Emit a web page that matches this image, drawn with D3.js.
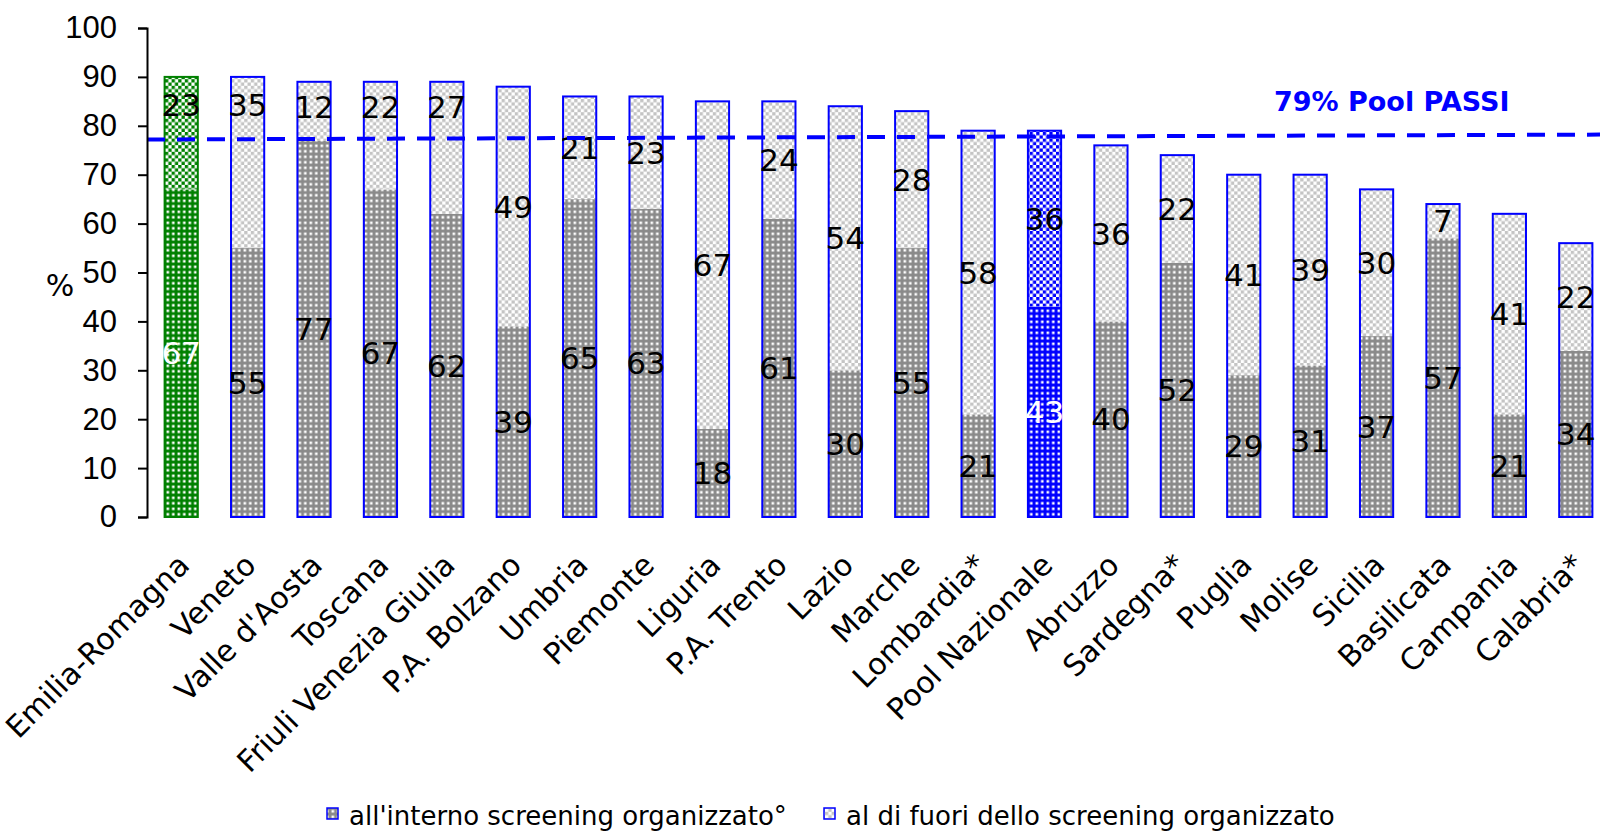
<!DOCTYPE html>
<html>
<head>
<meta charset="utf-8">
<script src="https://cdn.jsdelivr.net/npm/d3@7"></script>
<style>
  body { margin: 0; background: #fff; }
  svg { display: block; font-family: "DejaVu Sans", Verdana, sans-serif; }
  .axis path, .axis line { stroke: #000; stroke-width: 2; }
  .axis text { font-size: 31px; fill: #000; }
</style>
</head>
<body>
<svg id="chart" width="1600" height="833"></svg>
<script>
// regions, sorted by total
const regions = [
  "Emilia-Romagna", "Veneto", "Valle d'Aosta", "Toscana", "Friuli Venezia Giulia",
  "P.A. Bolzano", "Umbria", "Piemonte", "Liguria", "P.A. Trento", "Lazio",
  "Marche", "Lombardia*", "Pool Nazionale", "Abruzzo", "Sardegna*", "Puglia",
  "Molise", "Sicilia", "Basilicata", "Campania", "Calabria*"
];
// % inside organised screening
const inside = [67, 55, 77, 67, 62, 39, 65, 63, 18, 61, 30, 55, 21, 43, 40, 52, 29, 31, 37, 57, 21, 34];
// % outside organised screening
const outside = [23, 35, 12, 22, 27, 49, 21, 23, 67, 24, 54, 28, 58, 36, 36, 22, 41, 39, 30, 7, 41, 22];
const yTicks = [0, 10, 20, 30, 40, 50, 60, 70, 80, 90, 100];
// reference line (drawn slightly tilted, as in the source)
const poolLine = [77.2, 78.2];
const poolLabel = "79% Pool PASSI";
const legendLabels = ["all'interno screening organizzato°", "al di fuori dello screening organizzato"];

const special = { "Emilia-Romagna": "green", "Pool Nazionale": "blue" };

const svg = d3.select("#chart");
const x = d3.scaleBand().domain(regions).range([148, 1609]).paddingInner(0.5).paddingOuter(0.25);
const y = d3.scaleLinear().domain([0, 100]).range([517, 28]);

// Patterns
// ----------------------------------------
const defs = svg.append("defs");
function dotPattern(id, bg) {
  const p = defs.append("pattern").attr("id", id)
      .attr("patternUnits", "userSpaceOnUse").attr("width", 5.5).attr("height", 5.5);
  p.append("rect").attr("width", 5.5).attr("height", 5.5).attr("fill", bg);
  p.append("rect").attr("x", 1.5).attr("y", 1.5).attr("width", 2.6).attr("height", 2.6).attr("fill", "#fff");
}
function checkPattern(id, fg) {
  const p = defs.append("pattern").attr("id", id)
      .attr("patternUnits", "userSpaceOnUse").attr("width", 6.6).attr("height", 6.6);
  p.append("rect").attr("width", 6.6).attr("height", 6.6).attr("fill", "#fff");
  p.append("rect").attr("width", 3.3).attr("height", 3.3).attr("fill", fg);
  p.append("rect").attr("x", 3.3).attr("y", 3.3).attr("width", 3.3).attr("height", 3.3).attr("fill", fg);
}
dotPattern("in-gray", "#8a8a8a");
dotPattern("in-green", "#008000");
dotPattern("in-blue", "#0000ff");
checkPattern("out-gray", "#c4c4c4");
checkPattern("out-green", "#008000");
checkPattern("out-blue", "#0000ff");

const colorOf = r => special[r] || "gray";
const strokeOf = r => special[r] === "green" ? "#008000" : "#0000ff";

// Bars
// ----------------------------------------
const bars = svg.append("g").selectAll("g")
  .data(regions.map((r, i) => ({ r, a: inside[i], b: outside[i] })))
  .join("g");

bars.append("rect")
  .attr("x", d => x(d.r)).attr("width", x.bandwidth())
  .attr("y", d => y(d.a)).attr("height", d => y(0) - y(d.a))
  .attr("fill", d => `url(#in-${colorOf(d.r)})`);
bars.append("rect")
  .attr("x", d => x(d.r)).attr("width", x.bandwidth())
  .attr("y", d => y(d.a + d.b)).attr("height", d => y(d.a) - y(d.a + d.b))
  .attr("fill", d => `url(#out-${colorOf(d.r)})`);
bars.append("rect")
  .attr("x", d => x(d.r)).attr("width", x.bandwidth())
  .attr("y", d => y(d.a + d.b)).attr("height", d => y(0) - y(d.a + d.b))
  .attr("fill", "none").attr("stroke", d => strokeOf(d.r)).attr("stroke-width", 2);

// dashed pool line
const lineX0 = 147, lineX1 = 1600;
svg.append("line")
  .attr("x1", lineX0).attr("x2", lineX1)
  .attr("y1", y(poolLine[0])).attr("y2", y(poolLine[1]))
  .attr("stroke", "#0000ff").attr("stroke-width", 4).attr("stroke-dasharray", "18,12");

svg.append("text")
  .attr("x", 1274).attr("y", 111)
  .attr("font-size", 27).attr("font-weight", "bold").attr("fill", "#0000ff")
  .text(poolLabel);

// value labels
const lineAt = (poolLine[0] + poolLine[1]) / 2;
function topLabelPos(d) {
  const total = d.a + d.b, mid = d.a + d.b / 2;
  // move above the dashed line when it would sit on it and there is room
  if (Math.abs(mid - lineAt) < 6 && total - lineAt >= 10) return (lineAt + total) / 2 + 0.5;
  return mid;
}
bars.append("text")
  .attr("x", d => x(d.r) + x.bandwidth() / 2)
  .attr("y", d => y(d.a / 2)).attr("dy", "0.36em")
  .attr("text-anchor", "middle").attr("font-size", 31)
  .attr("fill", d => special[d.r] ? "#fff" : "#000")
  .text(d => d.a);
bars.append("text")
  .attr("x", d => x(d.r) + x.bandwidth() / 2)
  .attr("y", d => y(topLabelPos(d))).attr("dy", "0.36em")
  .attr("text-anchor", "middle").attr("font-size", 31)
  .attr("fill", "#000")
  .text(d => d.b);

// Axes
// ----------------------------------------
svg.append("g").attr("class", "axis")
  .attr("transform", "translate(147,0)")
  .call(d3.axisLeft(y).tickValues(yTicks).tickSize(9).tickPadding(21));

svg.append("text")
  .attr("x", 60).attr("y", 296).attr("text-anchor", "middle")
  .attr("font-size", 30).text("%");

svg.append("g").selectAll("text")
  .data(regions).join("text")
  .attr("transform", r => `translate(${x(r) + x.bandwidth() / 2 + 10},567) rotate(-45)`)
  .attr("text-anchor", "end").attr("font-size", 30)
  .text(r => r);

// Legend
// ----------------------------------------
const legend = svg.append("g");
const legendX = [327, 824];
["in-gray", "out-gray"].forEach((pat, i) => {
  legend.append("rect")
    .attr("x", legendX[i]).attr("y", 808).attr("width", 11).attr("height", 11)
    .attr("fill", `url(#${pat})`).attr("stroke", "#0000ff").attr("stroke-width", 1.5);
  legend.append("text")
    .attr("x", legendX[i] + 22).attr("y", 825)
    .attr("font-size", 26).text(legendLabels[i]);
});
</script>
</body>
</html>
